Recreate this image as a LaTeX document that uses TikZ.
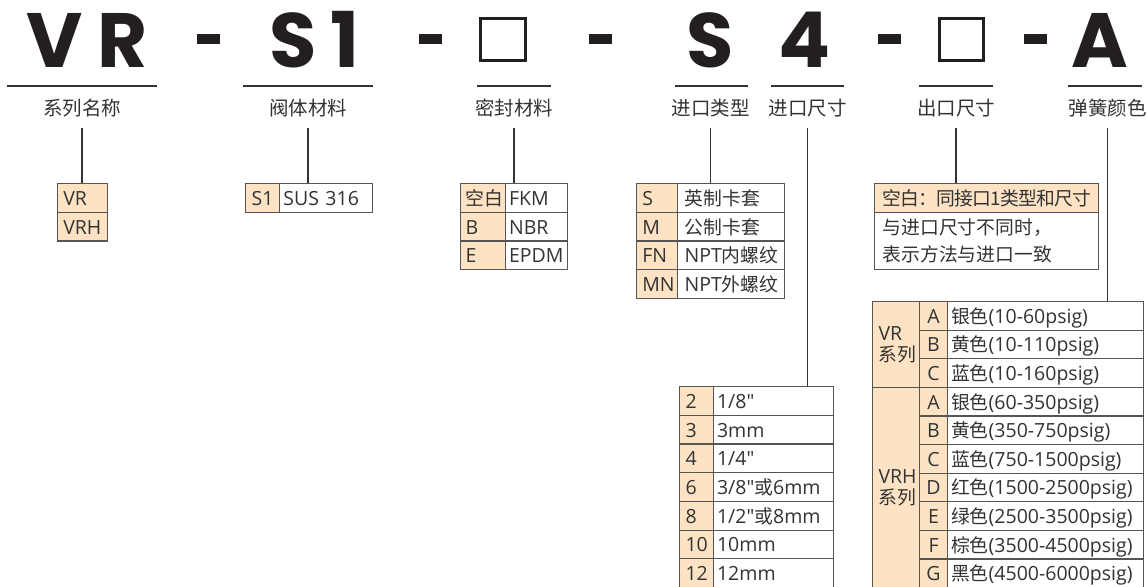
\documentclass[tikz,border=0pt]{standalone}
\usepackage{fontspec}
\setmainfont{Open Sans}[Ligatures=TeXOff]
\newfontfamily\cjk{Noto Sans CJK SC}[Scale=0.965]
\newfontfamily\cjktight{Noto Sans CJK SC}[Scale=0.965, LetterSpace=-4]
\newfontfamily\cjkhead{Noto Sans CJK SC}
\newfontfamily\bigfont{Poppins}
\usetikzlibrary{positioning}
\definecolor{peach}{HTML}{FDE3C4}
\definecolor{rulegray}{HTML}{555555}
\definecolor{ink}{HTML}{333333}
\definecolor{heavy}{HTML}{231F20}
\newcommand{\tabfont}{\fontsize{19.5}{27}\selectfont}
\newcommand{\headfont}{\cjkhead\fontsize{19.5}{24}\selectfont}
\newcommand{\bigletter}{\bigfont\bfseries\fontsize{77}{77}\selectfont}
\tikzset{
    letter/.style={anchor=base, inner sep=0pt, text=heavy, font=\bigletter},
    dashbar/.style={fill=heavy, inner sep=0pt, minimum width=23pt, minimum height=10pt},
    slot/.style={draw=heavy, line width=2.7pt, inner sep=0pt, minimum width=45.3pt, minimum height=42.3pt},
    hdlabel/.style={anchor=base, inner sep=0pt, text=ink, font=\headfont},
    uline/.style={draw=ink, line width=1.3pt},
    conn/.style={draw=ink, line width=1.2pt},
    cell/.style={draw=rulegray, line width=1.1pt, anchor=north west, minimum height=28.7pt,
        inner ysep=0pt, align=left, text=ink, font=\tabfont},
    onerow/.style={text height=17pt, text depth=2pt},
    keycell/.style={cell, onerow, fill=peach, inner xsep=6pt},
    valcell/.style={cell, onerow, fill=white, inner xsep=3.5pt}
}

\begin{document}
\begin{tikzpicture}[x=1pt, y=-1pt]
    \useasboundingbox (0,0) rectangle (1147,586);
    \clip (0,0) rectangle (1147,586);

    % model code
    \node[letter] (cV) at (54.3,67) {V};
    \node[letter] (cR) at (122.5,67) {R};
    \node[dashbar] (d1) at (208.5,39) {};
    \node[letter] (cS) at (293.5,67) {S};
    \node[letter] (cOne) at (345,67) {1};
    \node[dashbar] (d2) at (430.5,39) {};
    \node[slot] (b1) at (503,39.5) {};
    \node[dashbar] (d3) at (600.5,39) {};
    \node[letter] (cS2) at (710.5,67) {S};
    \node[letter] (cFour) at (805,67) {4};
    \node[dashbar] (d4) at (889.5,39) {};
    \node[slot, minimum width=44.3pt] (b2) at (961.5,39.5) {};
    \node[dashbar] (d5) at (1035,39) {};
    \node[letter] (cA) at (1099.5,67) {A};

    % headings
    \draw[uline] (7,86) -- (157,86);
    \draw[uline] (243,86) -- (373,86);
    \draw[uline] (477,86) -- (551,86);
    \draw[uline] (675,86) -- (748,86);
    \draw[uline] (771,86) -- (844,86);
    \draw[uline] (919,86) -- (993,86);
    \draw[uline] (1068,86) -- (1142,86);
    \node[hdlabel] (lseries) at (82,115.5) {系列名称};
    \node[hdlabel] (lbody) at (308,115.5) {阀体材料};
    \node[hdlabel] (lseal) at (514,115.5) {密封材料};
    \node[hdlabel] (ltype) at (710.5,115.5) {进口类型};
    \node[hdlabel] (linsize) at (807.5,115.5) {进口尺寸};
    \node[hdlabel] (loutsize) at (956,115.5) {出口尺寸};
    \node[hdlabel] (lspring) at (1107.5,115.5) {弹簧颜色};

    % series
    \foreach \k [count=\i from 0] in {VR, VRH}
        \node[keycell, text width=38.6pt] (sr\i) at (56.7,{183+28.7*\i}) {\k};

    % body material
    \node[keycell, text width=22.3pt] (bk) at (245,183) {S1};
    \node[valcell, text width=85.7pt] (bv) at (279.3,183) {SUS 316};

    % seal material
    \foreach \k/\v [count=\i from 0] in {{\cjk 空白}/FKM, B/NBR, E/EPDM} {
        \node[keycell, inner xsep=5pt, text width=35pt] (ek\i) at (460,{183+28.7*\i}) {\k};
        \node[valcell, text width=55pt] (ev\i) at (505,{183+28.7*\i}) {\v};
    }

    % inlet type
    \foreach \k/\v [count=\i from 0] in {S/{\cjk 英制卡套}, M/{\cjk 公制卡套},
            FN/NPT{\cjk 内螺纹}, MN/NPT{\cjk 外螺纹}} {
        \node[keycell, text width=29.3pt] (tk\i) at (635.7,{183+28.7*\i}) {\k};
        \node[valcell, inner xsep=7pt, text width=93pt] (tv\i) at (677,{183+28.7*\i}) {\v};
    }

    % outlet size
    \node[cell, onerow, fill=peach, inner xsep=8pt, text width=208pt, font=\tabfont\cjktight]
        (oh) at (874,183) {空白：同接口1类型和尺寸};
    \node[cell, fill=white, inner xsep=8pt, text width=208pt, minimum height=57.4pt,
        font=\tabfont\cjk] (ob) at (874,211.7) {与进口尺寸不同时，\\表示方法与进口一致};

    % inlet size
    \foreach \k/\v [count=\i from 0] in {2/{1/8"}, 3/3mm, 4/{1/4"}, 6/{3/8"{\cjk 或}6mm},
            8/{1/2"{\cjk 或}8mm}, 10/10mm, 12/12mm} {
        \node[keycell, text width=22pt] (zk\i) at (679,{386+28.7*\i}) {\k};
        \node[valcell, text width=113pt] (zv\i) at (713,{386+28.7*\i}) {\v};
    }

    % spring colour
    \node[cell, fill=peach, inner xsep=6pt, text width=35pt, minimum height=85.8pt,
        font=\fontsize{19.5}{21}\selectfont] (g1) at (872,301) {VR\\{\cjk 系列}};
    \node[cell, fill=peach, inner xsep=6pt, text width=35pt, minimum height=200.2pt,
        font=\fontsize{19.5}{21}\selectfont] (g2) at (872,386.8) {VRH\\{\cjk 系列}};
    \foreach \k/\v [count=\i from 0] in {A/{\cjk 银色}(10-60psig), B/{\cjk 黄色}(10-110psig),
            C/{\cjk 蓝色}(10-160psig), A/{\cjk 银色}(60-350psig), B/{\cjk 黄色}(350-750psig),
            C/{\cjk 蓝色}(750-1500psig), D/{\cjk 红色}(1500-2500psig),
            E/{\cjk 绿色}(2500-3500psig), F/{\cjk 棕色}(3500-4500psig),
            G/{\cjk 黑色}(4500-6000psig)} {
        \node[keycell, align=center, inner xsep=0pt, text width=28pt, minimum height=28.6pt]
            (ck\i) at (919,{301+28.6*\i}) {\k};
        \node[valcell, text width=189pt, minimum height=28.6pt] (cv\i) at (947,{301+28.6*\i}) {\v};
    }

    % leaders
    \draw[conn] ([yshift=-12.5pt]lseries.base) -- (lseries.base |- sr0.north);
    \draw[conn] ([yshift=-12.5pt]lbody.base) -- (lbody.base |- bk.north);
    \draw[conn] ([yshift=-12.5pt]lseal.base) -- (lseal.base |- ek0.north);
    \draw[conn] ([yshift=-12.5pt]ltype.base) -- (ltype.base |- tk0.north);
    \draw[conn] ([yshift=-12.5pt]linsize.base) -- (linsize.base |- zv0.north);
    \draw[conn] ([yshift=-12.5pt]loutsize.base) -- (loutsize.base |- oh.north);
    \draw[conn] ([yshift=-12.5pt]lspring.base) -- (lspring.base |- cv0.north);
\end{tikzpicture}
\end{document}
